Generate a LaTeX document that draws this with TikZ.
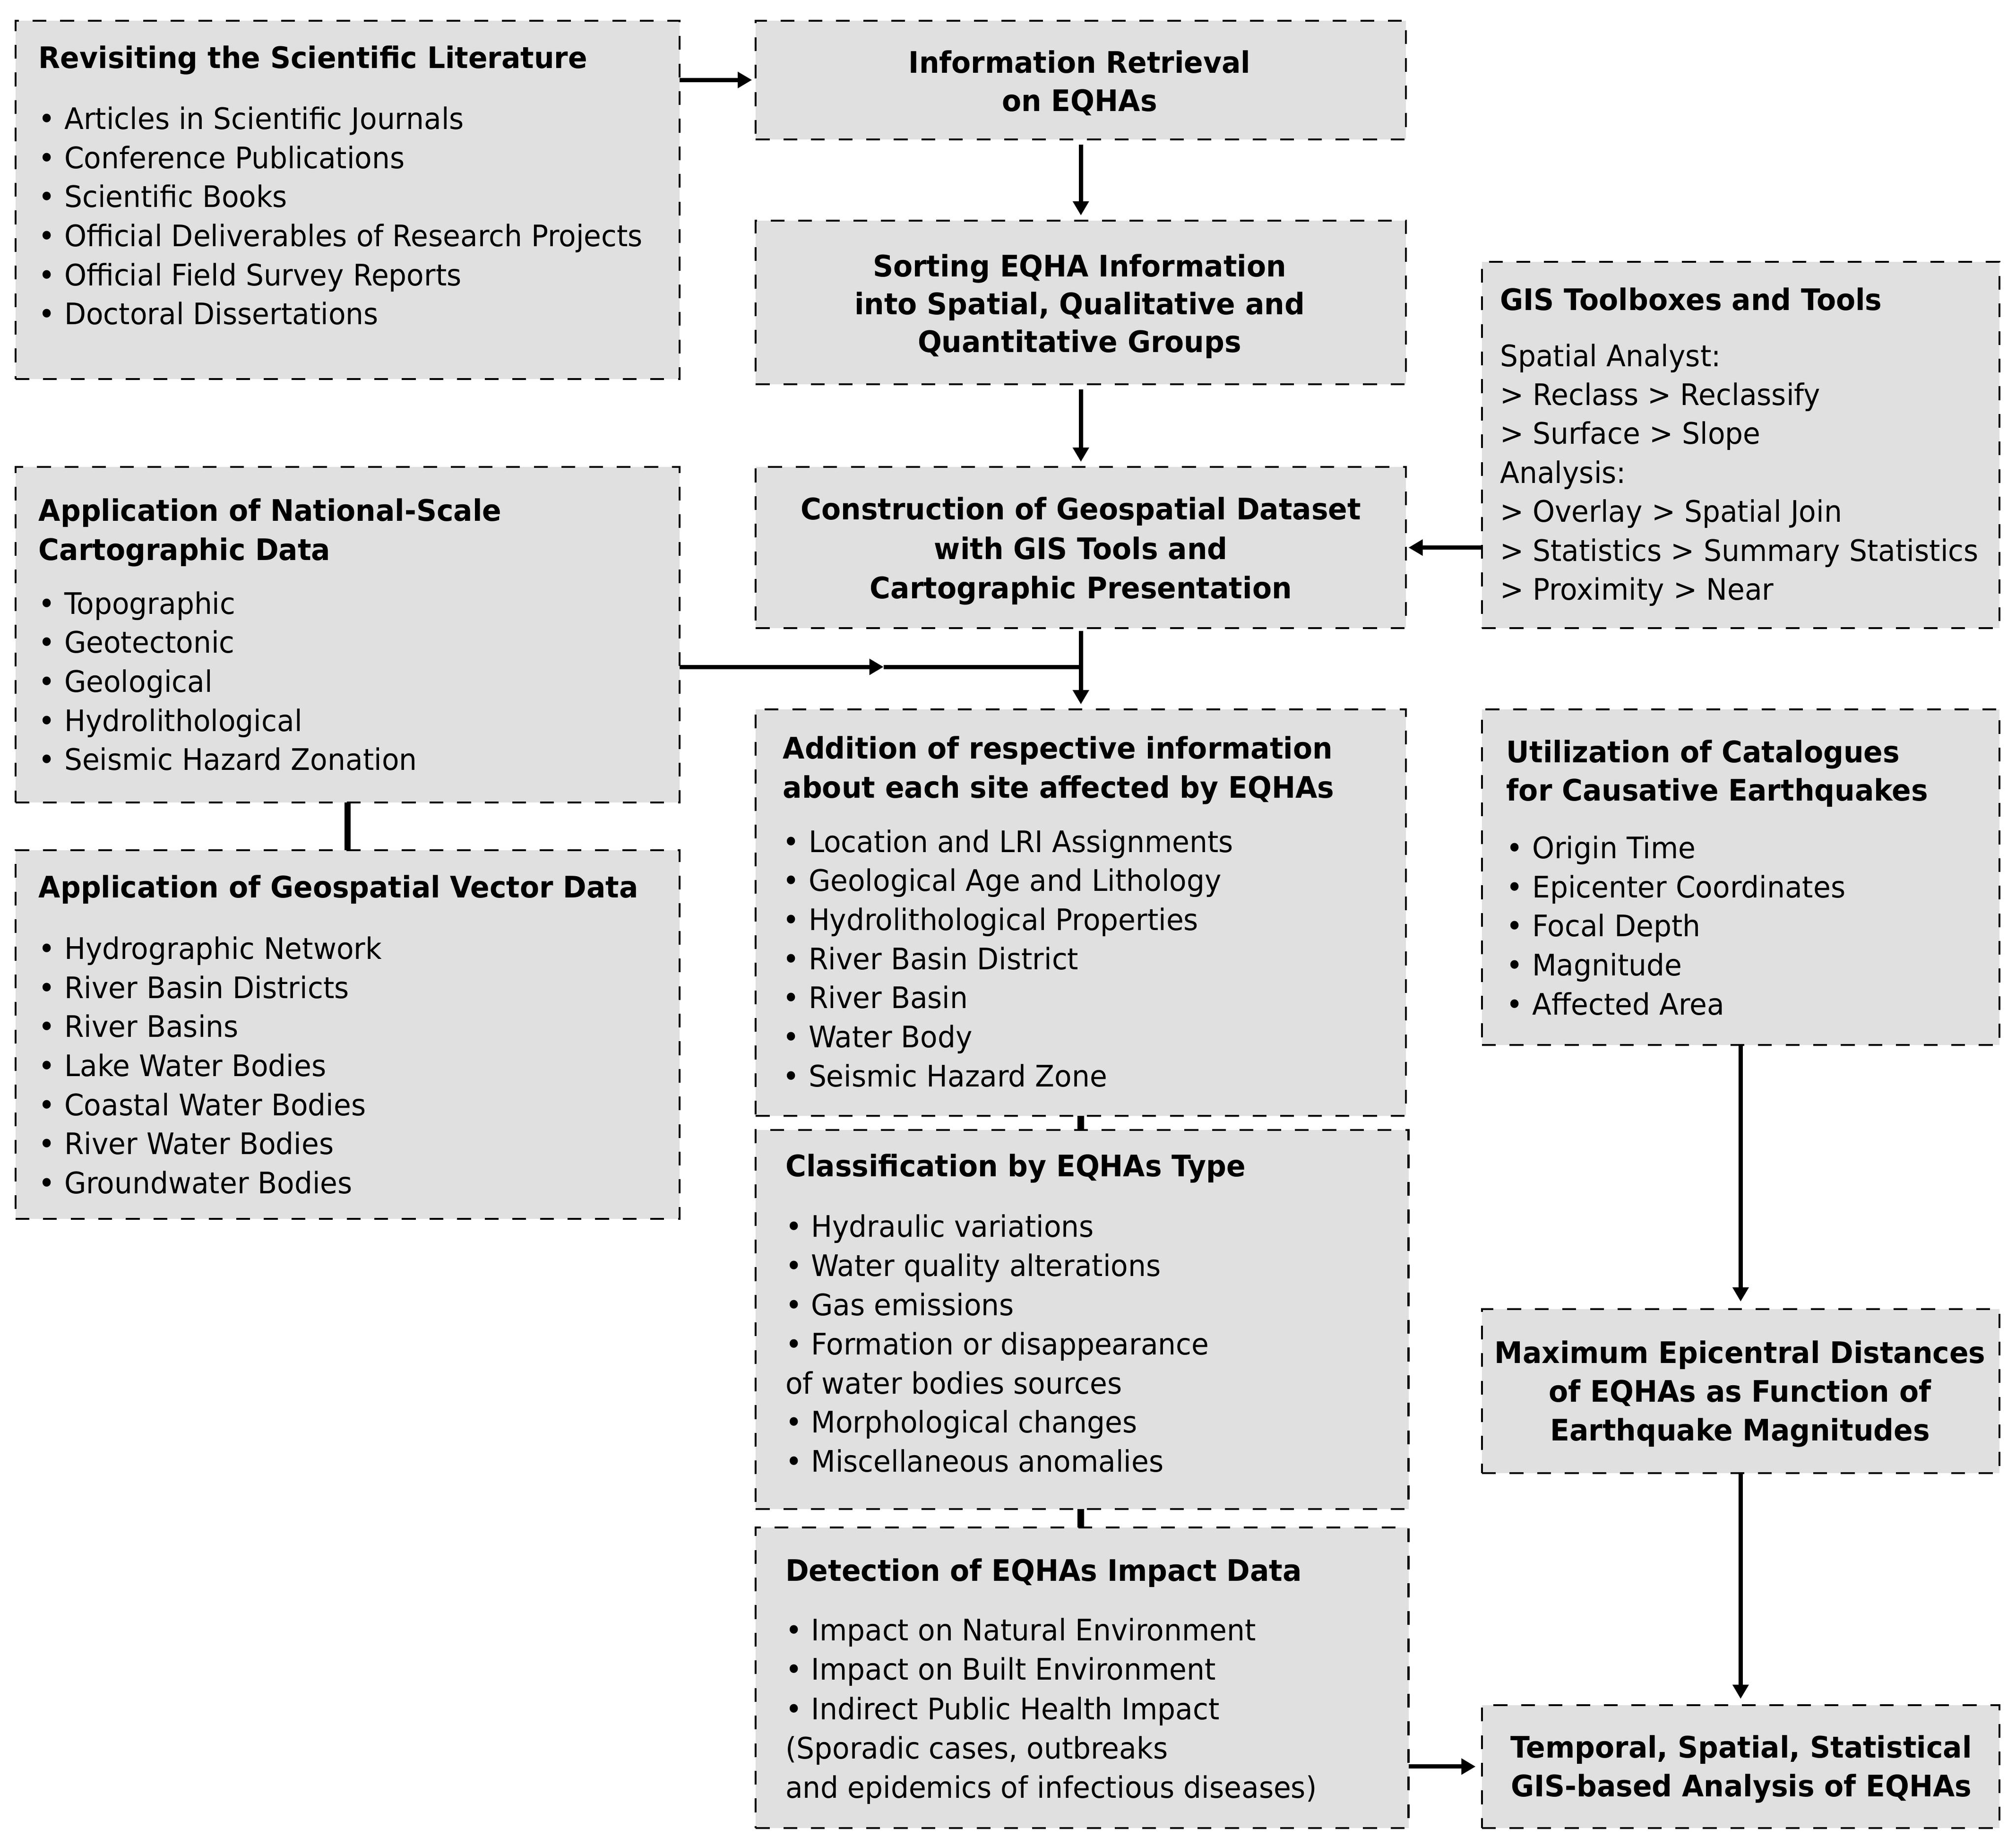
\documentclass[tikz,border=0pt]{standalone}
\usepackage{fontspec}
\setmainfont[FakeStretch=0.953]{DejaVu Sans}
\usetikzlibrary{arrows.meta}
\definecolor{boxgray}{RGB}{224,224,224}
\begin{document}
\begin{tikzpicture}[x=1pt,y=-1pt,
  box/.style={draw=black, fill=boxgray, line width=1.5pt, dash pattern=on 10.7pt off 10.7pt,
    inner sep=0pt, outer sep=0pt, anchor=north west},
  txt/.style={inner sep=0pt, outer sep=0pt, font=\fontsize{23}{28}\selectfont},
  ttl/.style={inner sep=0pt, outer sep=0pt, font=\fontsize{23}{28}\selectfont\bfseries},
  arr/.style={line width=3.3pt, -{Triangle[length=11pt,width=12pt]}},
  link/.style={line width=5pt}]
\useasboundingbox (0,0) rectangle (1563,1431);

% boxes
\node[box, minimum width=515pt, minimum height=278pt] (lit) at (12,16) {};
\node[box, minimum width=504pt, minimum height=92pt] (info) at (586,16) {};
\node[box, minimum width=504pt, minimum height=127pt] (sort) at (586,171) {};
\node[box, minimum width=504pt, minimum height=125pt] (constr) at (586,362) {};
\node[box, minimum width=401pt, minimum height=284pt] (gis) at (1149,203) {};
\node[box, minimum width=515pt, minimum height=260pt] (nat) at (12,362) {};
\node[box, minimum width=515pt, minimum height=286pt] (geo) at (12,659) {};
\node[box, minimum width=504pt, minimum height=315pt] (addition) at (586,550) {};
\node[box, minimum width=506pt, minimum height=294pt] (classif) at (586,876) {};
\node[box, minimum width=506pt, minimum height=233pt] (detect) at (586,1184) {};
\node[box, minimum width=401pt, minimum height=260pt] (util) at (1149,550) {};
\node[box, minimum width=401pt, minimum height=127pt] (max) at (1149,1015) {};
\node[box, minimum width=401pt, minimum height=95pt] (temporal) at (1149,1322) {};

% texts
\node[ttl, anchor=base west] (lit-t) at (30,53) {Revisiting the Scientific Literature};
\foreach \t [count=\i from 0] in {Articles in Scientific Journals, Conference Publications, Scientific Books,
  Official Deliverables of Research Projects, Official Field Survey Reports, Doctoral Dissertations}
  \node[txt, anchor=base west] (lit-\i) at (30,{100.2+30.3*\i}) {• \t};

\node[ttl, anchor=base] (info-0) at (837,56.6) {Information Retrieval};
\node[ttl, anchor=base] (info-1) at (837,86.4) {on EQHAs};

\node[ttl, anchor=base] (sort-0) at (837,214.5) {Sorting EQHA Information};
\node[ttl, anchor=base] (sort-1) at (837,243.8) {into Spatial, Qualitative and};
\node[ttl, anchor=base] (sort-2) at (837,273) {Quantitative Groups};

\node[ttl, anchor=base] (constr-0) at (838,403) {Construction of Geospatial Dataset};
\node[ttl, anchor=base] (constr-1) at (838,433.5) {with GIS Tools and};
\node[ttl, anchor=base] (constr-2) at (838,464) {Cartographic Presentation};

\node[ttl, anchor=base west] (gis-t) at (1163,240.4) {GIS Toolboxes and Tools};
\foreach \t [count=\i from 0] in {Spatial Analyst:, > Reclass > Reclassify, > Surface > Slope, Analysis:,
  > Overlay > Spatial Join, > Statistics > Summary Statistics, > Proximity > Near}
  \node[txt, anchor=base west] (gis-\i) at (1163,{284+30.2*\i}) {\t};

\node[ttl, anchor=base west] (nat-t0) at (30,404) {Application of National-Scale};
\node[ttl, anchor=base west] (nat-t1) at (30,434.4) {Cartographic Data};
\foreach \t [count=\i from 0] in {Topographic, Geotectonic, Geological, Hydrolithological, Seismic Hazard Zonation}
  \node[txt, anchor=base west] (nat-\i) at (30,{476+30.3*\i}) {• \t};

\node[ttl, anchor=base west] (geo-t) at (30,696) {Application of Geospatial Vector Data};
\foreach \t [count=\i from 0] in {Hydrographic Network, River Basin Districts, River Basins, Lake Water Bodies,
  Coastal Water Bodies, River Water Bodies, Groundwater Bodies}
  \node[txt, anchor=base west] (geo-\i) at (30,{743.5+30.3*\i}) {• \t};

\node[ttl, anchor=base west] (add-t0) at (607,588.4) {Addition of respective information};
\node[ttl, anchor=base west] (add-t1) at (607,618.7) {about each site affected by EQHAs};
\foreach \t [count=\i from 0] in {Location and LRI Assignments, Geological Age and Lithology,
  Hydrolithological Properties, River Basin District, River Basin, Water Body, Seismic Hazard Zone}
  \node[txt, anchor=base west] (add-\i) at (607,{660.6+30.3*\i}) {• \t};

\node[ttl, anchor=base west] (cls-t) at (609,912.2) {Classification by EQHAs Type};
\foreach \t [count=\i from 0] in {• Hydraulic variations, • Water quality alterations, • Gas emissions,
  • Formation or disappearance, of water bodies sources, • Morphological changes, • Miscellaneous anomalies}
  \node[txt, anchor=base west] (cls-\i) at (609,{959.1+30.35*\i}) {\t};

\node[ttl, anchor=base west] (det-t) at (609,1225.7) {Detection of EQHAs Impact Data};
\foreach \t [count=\i from 0] in {• Impact on Natural Environment, • Impact on Built Environment,
  • Indirect Public Health Impact, {(Sporadic cases, outbreaks}, and epidemics of infectious diseases)}
  \node[txt, anchor=base west] (det-\i) at (609,{1271.9+30.5*\i}) {\t};

\node[ttl, anchor=base west] (util-t0) at (1168,591) {Utilization of Catalogues};
\node[ttl, anchor=base west] (util-t1) at (1168,621) {for Causative Earthquakes};
\foreach \t [count=\i from 0] in {Origin Time, Epicenter Coordinates, Focal Depth, Magnitude, Affected Area}
  \node[txt, anchor=base west] (util-\i) at (1168,{665.5+30.3*\i}) {• \t};

\node[ttl, anchor=base] (max-0) at (1349,1056.8) {Maximum Epicentral Distances};
\node[ttl, anchor=base] (max-1) at (1349,1086.8) {of EQHAs as Function of};
\node[ttl, anchor=base] (max-2) at (1349,1116.8) {Earthquake Magnitudes};

\node[ttl, anchor=base] (tmp-0) at (1350,1362.7) {Temporal, Spatial, Statistical};
\node[ttl, anchor=base] (tmp-1) at (1350,1392.8) {GIS-based Analysis of EQHAs};

% connectors
\coordinate (natlvl) at (0,517);
\coordinate (midtip) at (685,517);
\coordinate (junc) at (constr.south |- natlvl);
\draw[arr, shorten >=3pt] (lit.east |- info.west) -- (info.west);
\draw[arr, shorten <=4pt, shorten >=4pt] (info.south) -- (sort.north);
\draw[arr, shorten <=4pt, shorten >=4pt] (sort.south) -- (constr.north);
\draw[arr, shorten >=2pt] (gis.west |- constr.east) -- (constr.east);
\draw[arr] (nat.east |- natlvl) -- (midtip);
\draw[line width=3.3pt] (midtip) -- (junc);
\draw[arr, shorten <=2pt, shorten >=4pt] (constr.south) -- (addition.north);
\draw[link] (nat.south) -- (geo.north);
\draw[link] (addition.south) -- (addition.south |- classif.north);
\draw[link] (classif.south -| addition.south) -- (addition.south |- detect.north);
\draw[arr, shorten >=5pt] (detect.east |- temporal.west) -- (temporal.west);
\draw[arr, shorten >=6pt] (util.south) -- (max.north);
\draw[arr, shorten >=5pt] (max.south) -- (temporal.north);
\end{tikzpicture}
\end{document}
